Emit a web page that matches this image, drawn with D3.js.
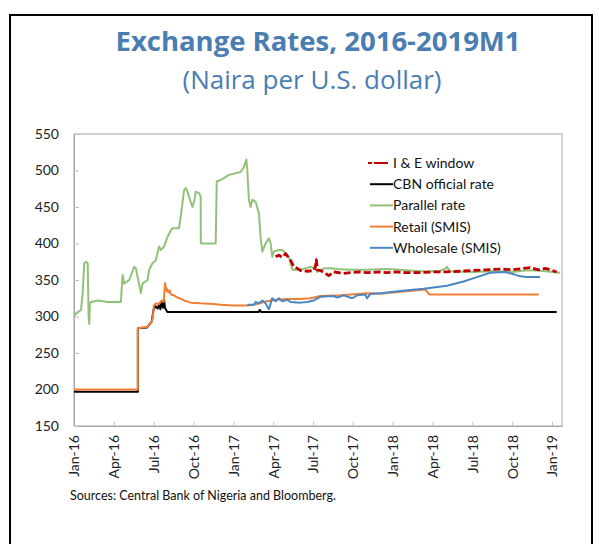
<!DOCTYPE html>
<html>
<head>
<meta charset="utf-8">
<script src="https://cdn.jsdelivr.net/npm/d3@7"></script>
<style>
  body { margin: 0; background: #fff; }
  svg { display: block; }
  text { font-family: Lato, "Open Sans", sans-serif; }
</style>
</head>
<body>
<div id="chart"></div>
<script>
// Chart size and plot margins
var svgWidth = 599;
var svgHeight = 544;
var margin = { top: 134, right: 37, bottom: 118, left: 74 };
var width = svgWidth - margin.left - margin.right;
var height = svgHeight - margin.top - margin.bottom;

// X values are months since Jan-2016
var tickMonths = [0, 3, 6, 9, 12, 15, 18, 21, 24, 27, 30, 33, 36];
var tickLabels = ["Jan-16", "Apr-16", "Jul-16", "Oct-16", "Jan-17", "Apr-17", "Jul-17",
    "Oct-17", "Jan-18", "Apr-18", "Jul-18", "Oct-18", "Jan-19"];
var yTicks = [150, 200, 250, 300, 350, 400, 450, 500, 550];

var seriesNames = ["I & E window", "CBN official rate", "Parallel rate", "Retail (SMIS)", "Wholesale (SMIS)"];
var seriesColors = ["#c00000", "#000000", "#93c17a", "#f07f35", "#4a86c2"];

var ieWindow = [[15.18, 382], [15.43, 384], [15.68, 381], [15.93, 386], [16.18, 380], [16.31, 377],
    [16.56, 368], [16.81, 366], [17.06, 363], [17.56, 362], [18.06, 363], [18.19, 369], [18.25, 378],
    [18.32, 364], [18.56, 363], [18.94, 359], [19.19, 356], [19.56, 361], [20.3, 359], [20.82, 360],
    [21.5, 361], [22.07, 360], [23.0, 361], [23.58, 360], [24.3, 361], [25.0, 360], [26.0, 360],
    [27.0, 361], [28.0, 361], [29.0, 362], [30.0, 363], [31.0, 364], [32.09, 365], [33.0, 364],
    [34.35, 367], [35.0, 364], [35.5, 366], [36.35, 361]];

var cbnRate = [[0, 197], [4.81, 197], [4.81, 284], [5.5, 285], [5.85, 293], [6.0, 310], [6.15, 314],
    [6.3, 311], [6.45, 318], [6.5, 310], [6.6, 320], [6.7, 312], [6.79, 322], [6.85, 312], [7.0, 307],
    [7.04, 306], [13.9, 306], [13.98, 309], [14.1, 306], [36.35, 306]];

var parallelRate = [[0, 300], [0.15, 304], [0.53, 309], [0.65, 332], [0.77, 373], [0.9, 375],
    [1.03, 373], [1.1, 300], [1.15, 290], [1.2, 318], [1.28, 320], [1.78, 322], [2.53, 320], [3.53, 320],
    [3.66, 357], [3.78, 345], [4.16, 350], [4.53, 368], [4.66, 366], [4.79, 354], [5.04, 332],
    [5.16, 345], [5.54, 350], [5.66, 364], [5.91, 373], [6.16, 377], [6.41, 396], [6.54, 391],
    [6.79, 396], [7.04, 409], [7.29, 418], [7.42, 421], [7.91, 421], [8.04, 437], [8.29, 473],
    [8.42, 476], [8.54, 471], [8.79, 457], [8.92, 450], [9.04, 457], [9.17, 471], [9.42, 469],
    [9.54, 464], [9.55, 400], [10.67, 400], [10.75, 485], [11.05, 487], [11.67, 494], [12.55, 498],
    [12.8, 505], [12.98, 515], [13.05, 501], [13.17, 460], [13.3, 450], [13.43, 460], [13.68, 457],
    [13.93, 441], [14.05, 409], [14.18, 389], [14.43, 400], [14.68, 407], [14.81, 400], [14.93, 382],
    [15.05, 389], [15.43, 391], [15.68, 391], [15.93, 387], [16.18, 382], [16.44, 364], [17.06, 364],
    [17.81, 368], [18.19, 366], [18.32, 361], [18.81, 366], [19.31, 366], [19.82, 365], [20.82, 364],
    [22.07, 364], [23.58, 365], [24.58, 364], [26.0, 362], [27.5, 362], [28.0, 366], [28.09, 368],
    [28.3, 362], [30.0, 361], [31.5, 362], [33.0, 361], [34.0, 363], [35.0, 363], [35.5, 362], [36.6, 360]];

var retailRate = [[0, 200], [4.81, 200], [4.81, 284], [5.2, 285], [5.54, 286], [5.7, 290], [5.86, 293],
    [5.95, 300], [6.01, 315], [6.16, 318], [6.4, 317], [6.6, 322], [6.75, 320], [6.86, 346], [6.95, 335],
    [7.0, 338], [7.1, 333], [7.2, 336], [7.3, 330], [7.52, 329], [7.8, 326], [8.3, 322], [8.8, 319],
    [9.5, 318], [10.5, 317], [11.05, 316], [12.0, 315], [13.05, 315], [13.5, 316], [14.0, 318],
    [14.5, 321], [15.2, 323], [16.0, 324], [17.0, 324], [17.81, 325], [18.56, 328], [20.07, 329],
    [22.07, 332], [23.07, 331], [24.58, 334], [26.45, 337], [26.78, 330], [35.0, 330]];

var wholesaleRate = [[13.05, 316], [13.55, 316], [13.68, 320], [13.93, 318], [14.18, 322], [14.43, 318],
    [14.6, 312], [14.68, 310], [14.81, 318], [14.93, 325], [15.18, 321], [15.43, 325], [15.68, 321],
    [16.06, 323], [16.31, 320], [17.06, 319], [17.56, 320], [18.06, 322], [18.56, 327], [19.56, 328],
    [19.82, 326], [20.31, 329], [20.95, 325], [21.32, 329], [21.94, 330], [22.07, 325], [22.32, 331],
    [23.07, 332], [24.58, 335], [26.33, 338], [28.09, 342], [29.33, 348], [30.34, 354], [31.34, 360],
    [32.47, 361], [33.09, 358], [33.59, 355], [34.1, 354], [35.1, 354]];

var svg = d3.select("#chart")
    .append("svg")
    .attr("width", svgWidth)
    .attr("height", svgHeight);

// Outer frame
svg.append("rect")
    .attr("x", 10)
    .attr("y", 15)
    .attr("width", 582)
    .attr("height", 560)
    .attr("fill", "none")
    .attr("stroke", "#000")
    .attr("stroke-width", 2);

// Titles
svg.append("text")
    .attr("x", 318)
    .attr("y", 51)
    .attr("text-anchor", "middle")
    .style("font-family", "'Open Sans', sans-serif")
    .style("font-weight", 700)
    .style("font-size", "27.5px")
    .attr("fill", "#4a7db2")
    .text("Exchange Rates, 2016-2019M1");

svg.append("text")
    .attr("x", 312)
    .attr("y", 89)
    .attr("text-anchor", "middle")
    .style("font-family", "'Open Sans', sans-serif")
    .style("font-size", "26px")
    .attr("fill", "#4a7db2")
    .text("(Naira per U.S. dollar)");

var chartGroup = svg.append("g")
    .attr("transform", `translate(${margin.left}, ${margin.top})`);

var xScale = d3.scaleLinear().domain([0, 36.75]).range([0, width]);
var yScale = d3.scaleLinear().domain([150, 550]).range([height, 0]);

// Plot border
chartGroup.append("rect")
    .attr("width", width)
    .attr("height", height)
    .attr("fill", "none")
    .attr("stroke", "#a6a6a6");

// Axes
var bottomAxis = d3.axisBottom(xScale)
    .tickValues(tickMonths)
    .tickSizeInner(-4)
    .tickSizeOuter(0)
    .tickPadding(8)
    .tickFormat((d, i) => tickLabels[i]);

var leftAxis = d3.axisLeft(yScale)
    .tickValues(yTicks)
    .tickSizeInner(-5)
    .tickSizeOuter(0)
    .tickPadding(15);

var xAxis = chartGroup.append("g")
    .attr("transform", `translate(0, ${height})`)
    .call(bottomAxis);

xAxis.selectAll("text")
    .attr("transform", "rotate(-90)")
    .attr("text-anchor", "end")
    .attr("x", -9)
    .attr("y", 0)
    .attr("dy", "0.35em");

var yAxis = chartGroup.append("g").call(leftAxis);

[xAxis, yAxis].forEach(ax => {
    ax.select(".domain").attr("stroke", "#a6a6a6");
    ax.selectAll(".tick line").attr("stroke", "#bfbfbf");
    ax.selectAll(".tick text")
        .attr("fill", "#222")
        .attr("font-size", 14)
        .attr("font-family", "Lato, sans-serif");
});

// Series lines
var line = d3.line()
    .x(d => xScale(d[0]))
    .y(d => yScale(d[1]));

var drawOrder = [
    { data: cbnRate, i: 1 },
    { data: parallelRate, i: 2 },
    { data: ieWindow, i: 0 },
    { data: retailRate, i: 3 },
    { data: wholesaleRate, i: 4 }
];

drawOrder.forEach(s => {
    chartGroup.append("path")
        .datum(s.data)
        .attr("fill", "none")
        .attr("stroke", seriesColors[s.i])
        .attr("stroke-width", s.i === 0 ? 2.8 : 2)
        .attr("stroke-dasharray", s.i === 0 ? "7,3" : null)
        .attr("stroke-linejoin", "round")
        .attr("d", line);
});

// Legend
var legend = svg.append("g").attr("transform", "translate(368, 163)");

seriesNames.forEach((name, i) => {
    var row = legend.append("g").attr("transform", `translate(0, ${i * 21.2})`);
    row.append("line")
        .attr("x1", i === 0 ? 0 : 2)
        .attr("x2", i === 0 ? 20 : 25)
        .attr("stroke", seriesColors[i])
        .attr("stroke-width", 2)
        .attr("stroke-dasharray", i === 0 ? "4,2,14" : null);
    row.append("text")
        .attr("x", 25)
        .attr("dy", "0.35em")
        .attr("font-size", 14)
        .attr("fill", "#111")
        .text(name);
});

// Source note
svg.append("text")
    .attr("x", 70)
    .attr("y", 500)
    .attr("font-size", 12.5)
    .attr("fill", "#111")
    .text("Sources: Central Bank of Nigeria and Bloomberg.");
</script>
</body>
</html>
